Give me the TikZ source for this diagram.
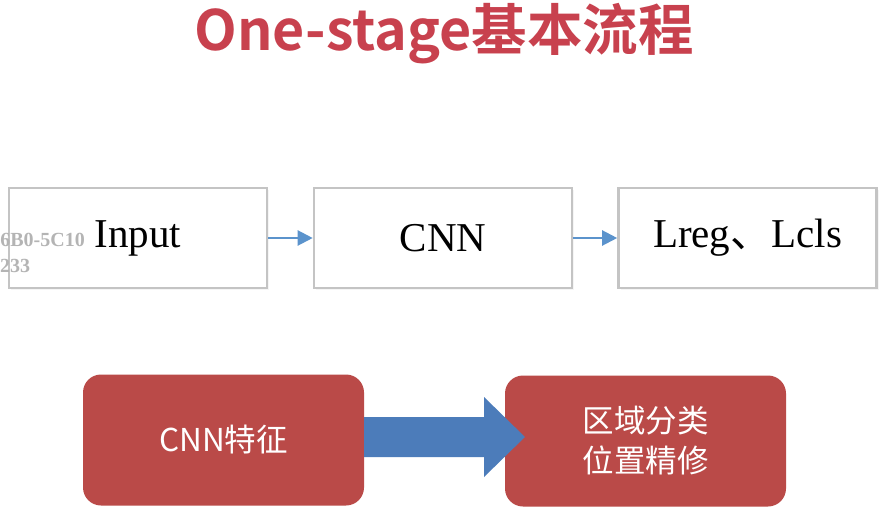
\documentclass[tikz,border=0pt]{standalone}
\usepackage{fontspec}
\setmainfont{Liberation Serif}
\newfontfamily\cjk{Noto Sans CJK SC}
\newfontfamily\cjkbold{Noto Sans CJK SC Bold}
\usetikzlibrary{arrows.meta,shapes.arrows,shadows}
\definecolor{titlered}{HTML}{C8414E}
\definecolor{boxgray}{HTML}{C4C4C4}
\definecolor{arrowblue}{HTML}{5B93CC}
\definecolor{redbox}{HTML}{BA4A48}
\definecolor{bigblue}{HTML}{4C7CBA}
\definecolor{wmgray}{HTML}{B4B4B4}
\tikzset{
  flowbox/.style={draw=boxgray, line width=2.6pt, fill=white, minimum width=258pt, minimum height=100pt, inner sep=0pt, font=\fontsize{41}{41}\selectfont, drop shadow={opacity=0.08, shadow xshift=2pt, shadow yshift=-2pt}},
  flowarrow/.style={draw=arrowblue, line width=2.2pt, -{Triangle[length=15pt,width=15pt]}},
  redstep/.style={fill=redbox, rounded corners=18pt, minimum width=281pt, minimum height=131pt, inner sep=0pt, text=white, font=\cjk\fontsize{31.5}{40}\selectfont, align=center},
  wm/.style={text=wmgray, font=\bfseries\fontsize{20}{20}\selectfont, inner sep=0pt}
}
\begin{document}
\begin{tikzpicture}[x=1pt,y=-1pt]
\useasboundingbox (0,0) rectangle (892,527);
\clip (0,0) rectangle (892,527);
\fill[white] (0,0) rectangle (892,527);
\node[inner sep=0pt, text=titlered, font=\cjkbold\fontsize{55.5}{55.5}\selectfont] (title) at (444,34) {One-stage基本流程};
\node[flowbox] (input) at (138,238) {Input};
\node[flowbox] (cnn) at (443,238) {CNN};
\node[flowbox] (loss) at (747.5,238) {Lreg{\cjk 、}Lcls};
\draw[flowarrow] (input.east) -- (cnn.west);
\draw[flowarrow] (cnn.east) -- (loss.west);
\node[wm, anchor=base east] (wm1) at (85,246) {6B0-5C10};
\node[wm, anchor=base west] (wm2) at (0,272) {233};
\node[redstep] (feat) at (223.5,440) {CNN特征};
\node[redstep] (cls) at (645.5,441) {区域分类\\位置精修};
\coordinate (s1) at (364,417);
\coordinate (s2) at (484,417);
\coordinate (h1) at (484,397);
\coordinate (tip) at (525,437);
\coordinate (h2) at (484,477);
\coordinate (s3) at (484,457);
\coordinate (s4) at (364,457);
\fill[bigblue] (s1) -- (s2) -- (h1) -- (tip) -- (h2) -- (s3) -- (s4) -- cycle;
\end{tikzpicture}
\end{document}
